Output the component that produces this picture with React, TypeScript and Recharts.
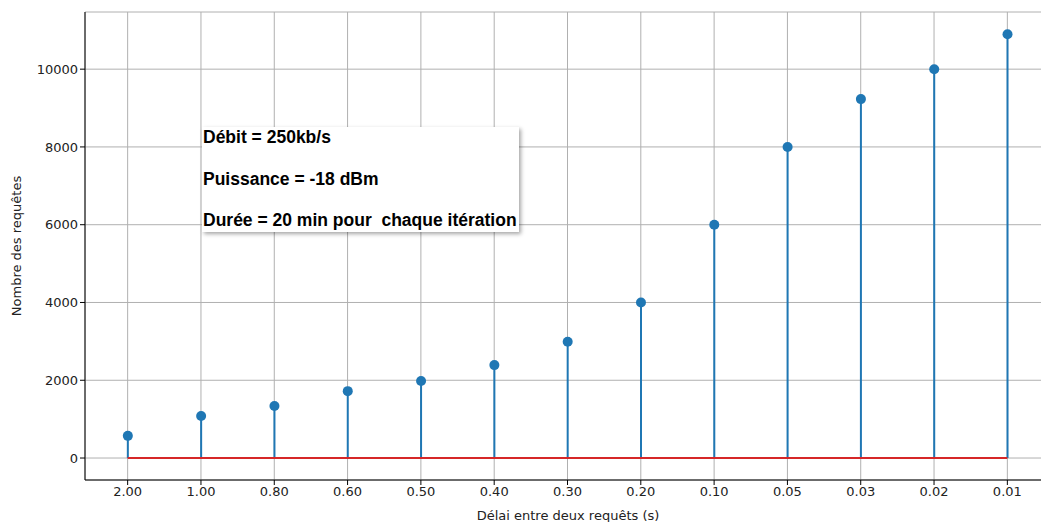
import { ComposedChart, Bar, XAxis, YAxis, CartesianGrid, ReferenceLine } from "recharts";

const delais = ["2.00", "1.00", "0.80", "0.60", "0.50", "0.40", "0.30", "0.20", "0.10", "0.05", "0.03", "0.02", "0.01"];
const requetes = [570, 1080, 1340, 1720, 1980, 2390, 2990, 4000, 6000, 8000, 9230, 10000, 10900];
const yTicks = [0, 2000, 4000, 6000, 8000, 10000];
const infoLines = ["Débit = 250kb/s", "Puissance = -18 dBm", "Durée = 20 min pour  chaque itération"];

const BLUE = "#1f77b4";
const RED = "#d62728";
const FONT = "DejaVu Sans, sans-serif";

const data = delais.map((d, i) => ({ delai: d, n: requetes[i] }));

const Stem = (props: any) => {
  const { x, y, width, height } = props;
  const cx = x + width / 2;
  return (
    <g>
      <line x1={cx} x2={cx} y1={y} y2={y + height} stroke={BLUE} strokeWidth={2} />
      <circle cx={cx} cy={y} r={5} fill={BLUE} />
    </g>
  );
};

export default function App() {
  return (
    <div style={{ position: "absolute", left: 0, top: 0, width: 1041, height: 522, overflow: "hidden", background: "#fff" }}>
      <ComposedChart width={1060} height={522} data={data} margin={{ top: 12, right: 9, left: 0, bottom: 0 }}>
        <CartesianGrid stroke="#b0b0b0" strokeWidth={1} />
        <XAxis
          dataKey="delai"
          height={42}
          padding={{ left: 6, right: 7 }}
          tick={{ fontSize: 13, fill: "#222", fontFamily: FONT }}
          tickLine={{ stroke: "#000" }}
          tickSize={5}
          axisLine={{ stroke: "#000" }}
          label={{ value: "Délai entre deux requêts (s)", position: "insideBottom", offset: 2, fontSize: 13, fill: "#222", fontFamily: FONT }}
        />
        <XAxis xAxisId="top" dataKey="delai" orientation="top" height={0} tick={false} tickLine={false} axisLine={{ stroke: "#000" }} />
        <YAxis
          width={85}
          domain={[-565, 11470]}
          ticks={yTicks}
          allowDataOverflow
          tick={{ fontSize: 13, fill: "#222", fontFamily: FONT }}
          tickLine={{ stroke: "#000" }}
          tickSize={5}
          axisLine={{ stroke: "#000" }}
          label={{ value: "Nombre des requêtes", angle: -90, position: "insideLeft", offset: 16, fontSize: 13, fill: "#222", fontFamily: FONT, style: { textAnchor: "middle" } }}
        />
        <Bar dataKey="n" shape={<Stem />} isAnimationActive={false} />
        <ReferenceLine
          segment={[{ x: delais[0], y: 0 }, { x: delais[delais.length - 1], y: 0 }]}
          stroke={RED}
          strokeWidth={2}
        />
      </ComposedChart>
      <div
        style={{
          position: "absolute",
          left: 202,
          top: 127,
          width: 317,
          height: 105,
          background: "#fff",
          boxShadow: "2px 2px 4px rgba(0,0,0,0.35)",
        }}
      >
        <div
          style={{
            position: "relative",
            top: -10,
            fontFamily: "'Liberation Sans', Arial, sans-serif",
            fontWeight: "bold",
            fontSize: 17.5,
            color: "#000",
            whiteSpace: "pre",
            lineHeight: "41.5px",
          }}
        >
          {infoLines.map((t) => (
            <div key={t} style={{ paddingLeft: 1 }}>{t}</div>
          ))}
        </div>
      </div>
    </div>
  );
}
